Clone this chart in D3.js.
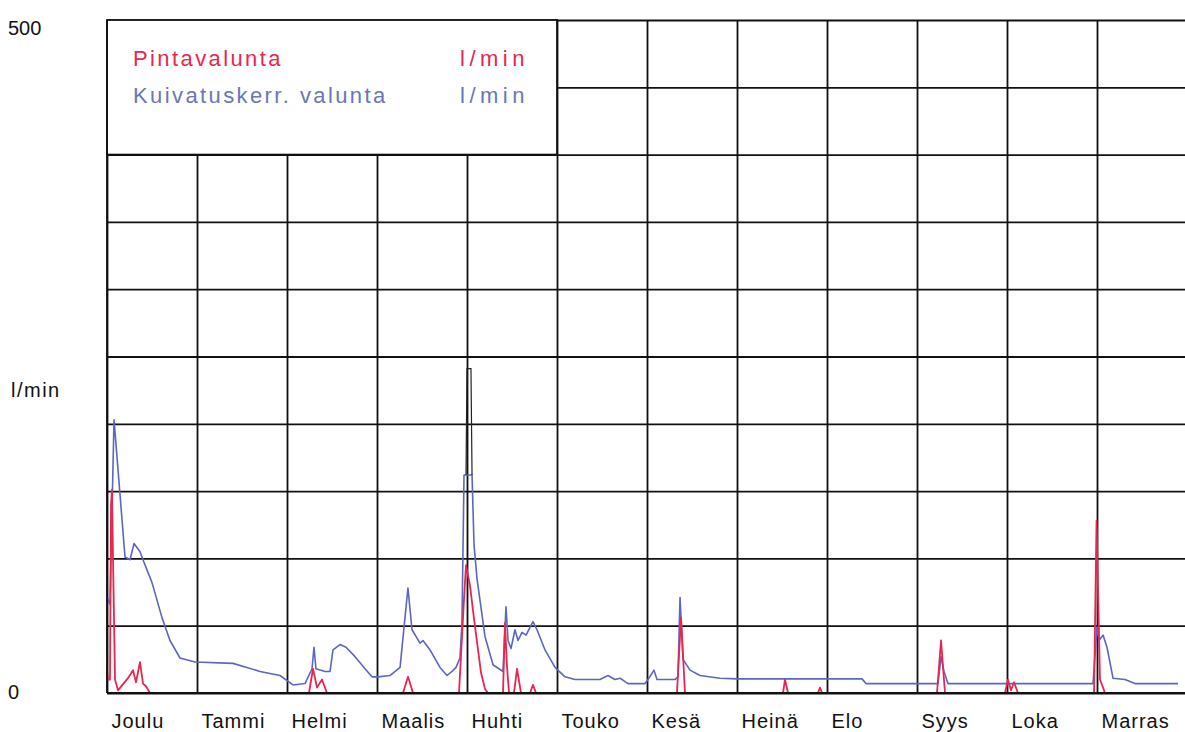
<!DOCTYPE html>
<html>
<head>
<meta charset="utf-8">
<script src="https://cdn.jsdelivr.net/npm/d3@7"></script>
<style>
  html, body { margin: 0; padding: 0; background: #fff; }
  svg { display: block; font-family: "Liberation Sans", Arial, sans-serif; }
</style>
</head>
<body>
<svg id="chart" width="1185" height="732"></svg>
<script>
// ---- data ----
const months = ["Joulu", "Tammi", "Helmi", "Maalis", "Huhti", "Touko", "Kesä", "Heinä", "Elo", "Syys", "Loka", "Marras"];
const yTickValues = [0, 500];
const yUnitLabel = "l/min";
const legendNames = ["Pintavalunta", "Kuivatuskerr. valunta"];
const legendUnits = ["l/min", "l/min"];

// [month position (0 = start of Joulu), l/min]
const surfaceRunoff = [
  [0.0, 17], [0.011, 10], [0.033, 10], [0.045, 140], [0.055, 151], [0.067, 100], [0.089, 10], [0.122, 2],
  [0.233, 11], [0.289, 17], [0.322, 8], [0.367, 23], [0.4, 7], [0.433, 5], [0.478, 0],
  [2.244, 0], [2.289, 18], [2.333, 4], [2.389, 10], [2.444, 0],
  [3.289, 0], [3.345, 12], [3.4, 0],
  [3.911, 0], [3.967, 70], [3.989, 95], [4.033, 80], [4.078, 55], [4.111, 38], [4.156, 15], [4.2, 3], [4.233, 0],
  [4.4, 0], [4.422, 52], [4.444, 20], [4.467, 0], [4.522, 0], [4.556, 18], [4.6, 0],
  [4.7, 0], [4.733, 6], [4.767, 0],
  [6.333, 0], [6.378, 56], [6.422, 0],
  [7.511, 0], [7.533, 10], [7.567, 0],
  [7.9, 0], [7.922, 4], [7.944, 0],
  [9.222, 0], [9.267, 39], [9.311, 0],
  [9.978, 0], [10.011, 10], [10.044, 2], [10.078, 8], [10.122, 0],
  [10.967, 0], [10.995, 128], [11.033, 10], [11.056, 6], [11.089, 0],
  [12, 0]
];

const drainRunoff = [
  [0.0, 71], [0.033, 66], [0.078, 203], [0.2, 101], [0.256, 99], [0.3, 111], [0.367, 105], [0.4, 99],
  [0.5, 82], [0.611, 56], [0.7, 39], [0.811, 26], [0.978, 23],
  [1.4, 22], [1.7, 16], [1.922, 13],
  [2.067, 6], [2.2, 7], [2.278, 18], [2.3, 34], [2.322, 18], [2.422, 16], [2.478, 16], [2.511, 32],
  [2.589, 36], [2.656, 34], [2.756, 27], [2.867, 18], [2.944, 12],
  [3.011, 12], [3.144, 13], [3.256, 19], [3.311, 56], [3.344, 78], [3.389, 47], [3.478, 37], [3.511, 39],
  [3.589, 32], [3.7, 19], [3.778, 13], [3.833, 16], [3.878, 19], [3.922, 26], [3.944, 52], [3.967, 162],
  [3.989, 162], [4.056, 162], [4.078, 110], [4.111, 85], [4.2, 42], [4.289, 21], [4.4, 16],
  [4.433, 64], [4.456, 39], [4.489, 33], [4.533, 47], [4.567, 39], [4.611, 45], [4.656, 43], [4.733, 53],
  [4.778, 47], [4.867, 32], [4.978, 19], [5.089, 12], [5.2, 10],
  [5.478, 10], [5.567, 13], [5.644, 10], [5.7, 11], [5.789, 7], [5.978, 7],
  [6.011, 10], [6.078, 17], [6.111, 10], [6.311, 10], [6.344, 12], [6.367, 71], [6.4, 25], [6.478, 17],
  [6.589, 13], [6.811, 11], [7.0, 10.5], [8.389, 10.5], [8.433, 7],
  [9.233, 7], [9.267, 27], [9.3, 16], [9.344, 7], [10.956, 7],
  [11.0, 49], [11.022, 39], [11.067, 43], [11.111, 34], [11.178, 11], [11.311, 10], [11.422, 7], [11.9, 7]
];

// dark pen trace at the April drainage peak
const drainSpike = [
  [3.989, 162], [4.0, 241], [4.044, 241], [4.056, 162]
];

// ---- layout ----
const svg = d3.select("#chart");
const mLeft = 107, mRight = 1187, mTop = 20, mBottom = 693;
const x = d3.scaleLinear().domain([0, 12]).range([mLeft, mRight]);
const y = d3.scaleLinear().domain([0, 500]).range([mBottom, mTop]);

const RED = "#e8264f", BLUE = "#5a66c2";

// grid via axes
const gridY = svg.append("g")
  .attr("transform", `translate(${mLeft},0)`)
  .call(d3.axisLeft(y).tickValues(d3.range(0, 501, 50)).tickSize(-(mRight - mLeft)).tickFormat(""));
gridY.selectAll("line").attr("stroke", "#111").attr("stroke-width", 1.8);
gridY.select(".domain").remove();

const gridX = svg.append("g")
  .attr("transform", `translate(0,${mTop})`)
  .call(d3.axisBottom(x).tickValues(d3.range(0, 13)).tickSize(mBottom - mTop).tickFormat(""));
gridX.selectAll("line").attr("stroke", "#111").attr("stroke-width", 1.8);
gridX.select(".domain").remove();

// legend box (covers grid)
const lg = svg.append("g");
lg.append("rect")
  .attr("x", x(0)).attr("y", y(500))
  .attr("width", x(5) - x(0)).attr("height", y(400) - y(500))
  .attr("fill", "#fff").attr("stroke", "#111").attr("stroke-width", 1.8);
const legendColors = [RED, "#6a76b6"];
legendNames.forEach((name, i) => {
  lg.append("text").attr("x", 133).attr("y", 66 + i * 37)
    .attr("fill", legendColors[i]).attr("font-size", 22).attr("letter-spacing", 2.4)
    .text(name);
  lg.append("text").attr("x", 460).attr("y", 66 + i * 37)
    .attr("fill", legendColors[i]).attr("font-size", 22).attr("letter-spacing", 4.5)
    .text(legendUnits[i]);
});

// data lines
const line = d3.line().x(d => x(d[0])).y(d => y(d[1]));
svg.append("path").datum(drainRunoff)
  .attr("d", line).attr("fill", "none").attr("stroke", BLUE).attr("stroke-width", 1.6)
  .attr("stroke-linejoin", "round");
svg.append("path").datum(drainSpike)
  .attr("d", line).attr("fill", "none").attr("stroke", "#222").attr("stroke-width", 1.2);
svg.append("path").datum(surfaceRunoff)
  .attr("d", line).attr("fill", "none").attr("stroke", RED).attr("stroke-width", 1.8)
  .attr("stroke-linejoin", "round");

// baseline on top
svg.append("line").attr("x1", mLeft).attr("x2", mRight).attr("y1", y(0)).attr("y2", y(0))
  .attr("stroke", "#111").attr("stroke-width", 1.8);
svg.append("line").attr("x1", mLeft).attr("x2", mLeft).attr("y1", y(0)).attr("y2", y(500))
  .attr("stroke", "#111").attr("stroke-width", 1.8);

// y axis labels
const yAx = svg.append("g")
  .attr("transform", `translate(${mLeft},0)`)
  .call(d3.axisLeft(y).tickValues(yTickValues).tickSize(0).tickFormat(d3.format("d")));
yAx.select(".domain").remove();
yAx.selectAll("text")
  .attr("x", 8 - mLeft).attr("text-anchor", "start").attr("dy", "0.4em")
  .attr("font-size", 20).attr("font-family", "Liberation Sans, Arial, sans-serif").attr("fill", "#111")
  .attr("transform", d => d === 500 ? "translate(0,6)" : "translate(0,-3)");
svg.append("text").attr("x", 11).attr("y", 397)
  .attr("font-size", 20).attr("letter-spacing", 1.5).attr("fill", "#111").text(yUnitLabel);

// month labels
const xAx = svg.append("g")
  .attr("transform", `translate(0,${mBottom})`)
  .call(d3.axisBottom(x).tickValues(d3.range(0, 12)).tickSize(0).tickFormat(i => months[i]));
xAx.select(".domain").remove();
xAx.selectAll("text")
  .attr("text-anchor", "start").attr("x", 4).attr("y", 35).attr("dy", 0)
  .attr("font-size", 20).attr("letter-spacing", 1)
  .attr("font-family", "Liberation Sans, Arial, sans-serif").attr("fill", "#111");
</script>
</body>
</html>
